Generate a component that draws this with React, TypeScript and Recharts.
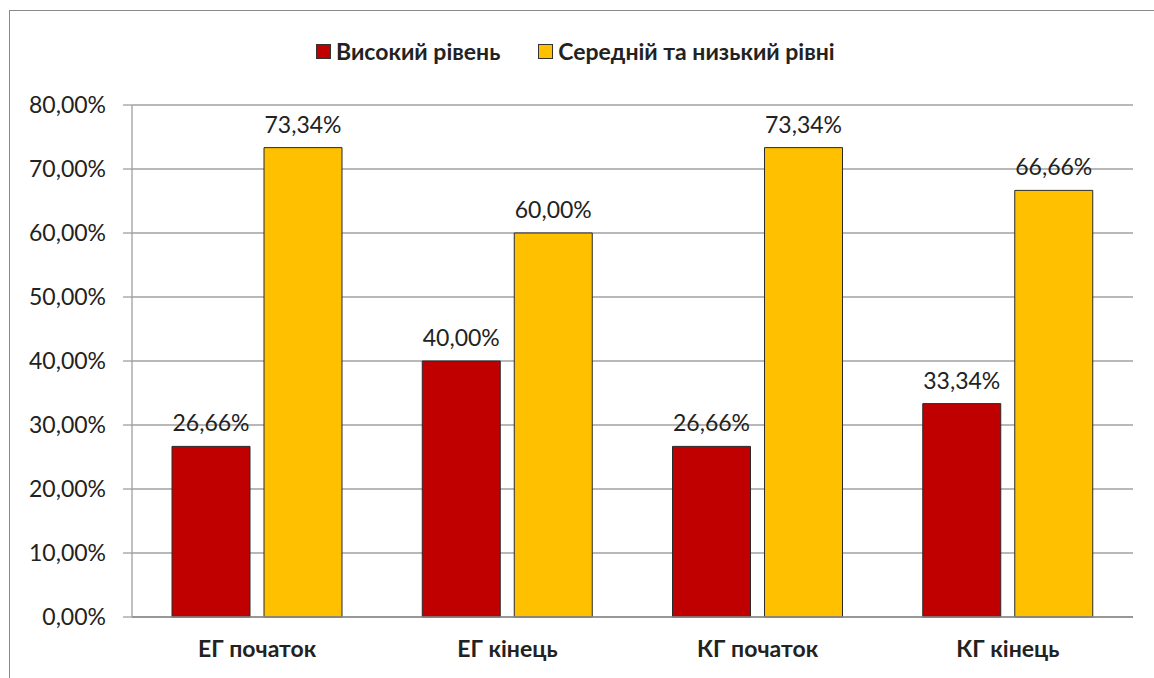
import React from "react";
import { Bar, BarChart, CartesianGrid, LabelList, Legend, XAxis, YAxis } from "recharts";

const categories = ["ЕГ початок", "ЕГ кінець", "КГ початок", "КГ кінець"];
const highLevel = [26.66, 40.0, 26.66, 33.34];
const midLowLevel = [73.34, 60.0, 73.34, 66.66];
const yTicks = [0, 10, 20, 30, 40, 50, 60, 70, 80];
const bandTicks = [0, 1, 2, 3, 4];

const SERIES = [
  { key: "high", name: "Високий рівень", color: "#C00000" },
  { key: "midLow", name: "Середній та низький рівні", color: "#FFC000" },
];

const data = categories.map((name, i) => ({
  name,
  high: highLevel[i],
  midLow: midLowLevel[i],
}));

const FONT = "Lato, 'Open Sans', sans-serif";
const pct = (v: number) => `${v.toFixed(2).replace(".", ",")}%`;

const LegendContent = () => (
  <div
    style={{
      width: 1154,
      height: 30,
      display: "flex",
      justifyContent: "flex-start",
      alignItems: "center",
      paddingLeft: 316,
      boxSizing: "border-box",
      fontFamily: FONT,
      fontWeight: 700,
      fontSize: 23,
      color: "#222",
    }}
  >
    {SERIES.map((s, i) => (
      <div key={s.key} style={{ display: "flex", alignItems: "center", marginLeft: i ? 38 : 0 }}>
        <span
          style={{
            display: "inline-block",
            width: 13,
            height: 13,
            background: s.color,
            border: "1px solid #333",
            marginRight: 5,
          }}
        />
        <span>{s.name}</span>
      </div>
    ))}
  </div>
);

export default function App() {
  return (
    <div
      style={{
        position: "fixed",
        left: 0,
        top: 0,
        width: 1154,
        height: 678,
        overflow: "hidden",
        background: "#fff",
      }}
    >
      {/* frame of the scanned chart */}
      <div
        style={{
          position: "absolute",
          left: 9,
          top: 10,
          width: 2000,
          height: 2000,
          border: "1.5px solid #8a8a8a",
        }}
      />
      <div style={{ position: "absolute", left: 0, top: 0 }}>
        <BarChart
          width={1154}
          height={678}
          data={data}
          margin={{ top: 75, right: 21, left: 10, bottom: 10 }}
          barCategoryGap={40}
          barGap={14}
        >
          <CartesianGrid vertical={false} stroke="#a0a0a0" strokeWidth={1.3} />
          <XAxis
            xAxisId="bands"
            type="number"
            domain={[0, 4]}
            ticks={bandTicks}
            tick={false}
            height={1}
            tickSize={8}
            axisLine={{ stroke: "#8c8c8c", strokeWidth: 1.3 }}
            tickLine={{ stroke: "#8c8c8c", strokeWidth: 1.3 }}
          />
          <XAxis
            xAxisId="cat"
            dataKey="name"
            height={50}
            axisLine={false}
            tickLine={false}
            tickSize={0}
            tickMargin={23}
            tick={{ fill: "#222", fontFamily: FONT, fontSize: 23, fontWeight: 700 }}
          />
          <YAxis
            width={122}
            domain={[0, 80]}
            ticks={yTicks}
            tickFormatter={pct}
            tickSize={9}
            tickMargin={17}
            axisLine={{ stroke: "#a0a0a0", strokeWidth: 1.3 }}
            tickLine={{ stroke: "#a0a0a0", strokeWidth: 1.3 }}
            tick={{ fill: "#222", fontFamily: FONT, fontSize: 23 }}
          />
          <Legend verticalAlign="top" content={<LegendContent />} wrapperStyle={{ top: 36, left: 0 }} />
          {SERIES.map((s) => (
            <Bar
              key={s.key}
              xAxisId="cat"
              dataKey={s.key}
              name={s.name}
              fill={s.color}
              stroke="#2a2a2a"
              strokeWidth={1}
              isAnimationActive={false}
            >
              <LabelList
                dataKey={s.key}
                position="top"
                offset={15}
                formatter={(v: number) => pct(v)}
                style={{ fill: "#222", fontFamily: FONT, fontSize: 23 }}
              />
            </Bar>
          ))}
        </BarChart>
      </div>
    </div>
  );
}
